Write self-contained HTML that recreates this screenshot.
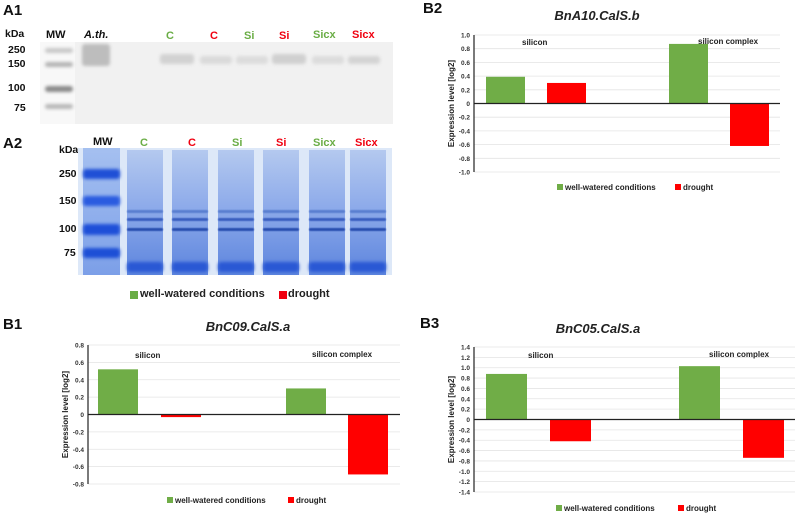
<!DOCTYPE html>
<html><head><meta charset="utf-8"><style>
body{margin:0;width:798px;height:515px;background:#fff;position:relative;overflow:hidden;font-family:"Liberation Sans",Arial,sans-serif}
.abs{position:absolute}
.pl{font-weight:bold;font-size:15px;color:#111}
.lab{font-weight:bold;font-size:11px;white-space:nowrap}
.g{color:#6aad45}.r{color:#f00010}
.kd{font-weight:bold;font-size:10.5px;color:#111}
.band{position:absolute;filter:blur(1.5px);border-radius:3px}
.lane{position:absolute;top:150px;height:125px;width:36px;background:linear-gradient(#b4c9ef,#8eabea 45%,#5d85de)}
</style></head><body>
<div class="abs pl" style="left:3px;top:2px">A1</div>
<div class="abs kd" style="left:5px;top:28px">kDa</div>
<div class="abs lab" style="left:46px;top:29px;color:#111">MW</div>
<div class="abs lab" style="left:84px;top:29px;color:#111;font-style:italic">A.th.</div>
<div class="abs lab g" style="left:166px;top:30px">C</div>
<div class="abs lab r" style="left:210px;top:30px">C</div>
<div class="abs lab g" style="left:244px;top:30px">Si</div>
<div class="abs lab r" style="left:279px;top:30px">Si</div>
<div class="abs lab g" style="left:313px;top:29px">Sicx</div>
<div class="abs lab r" style="left:352px;top:29px">Sicx</div>
<div class="abs kd" style="left:8px;top:44px">250</div>
<div class="abs kd" style="left:8px;top:58px">150</div>
<div class="abs kd" style="left:8px;top:82px">100</div>
<div class="abs kd" style="left:14px;top:102px">75</div>
<div class="abs" style="left:40px;top:42px;width:36px;height:82px;background:#f8f8f8"></div>
<div class="abs" style="left:75px;top:42px;width:318px;height:82px;background:#f1f1f1"></div>
<div class="abs" style="left:40px;top:42px;width:353px;height:82px">
 <div class="band" style="left:5px;top:6px;width:28px;height:5px;background:#c8c8c8"></div>
 <div class="band" style="left:5px;top:20px;width:28px;height:5px;background:#b4b4b4"></div>
 <div class="band" style="left:5px;top:44px;width:28px;height:6px;background:#8a8a8a"></div>
 <div class="band" style="left:5px;top:62px;width:28px;height:5px;background:#b8b8b8"></div>
 <div class="band" style="left:42px;top:2px;width:28px;height:22px;background:#bdbdbd"></div>
 <div class="band" style="left:120px;top:12px;width:34px;height:10px;background:#d2d2d2"></div>
 <div class="band" style="left:160px;top:14px;width:32px;height:8px;background:#dadada"></div>
 <div class="band" style="left:196px;top:14px;width:32px;height:8px;background:#dcdcdc"></div>
 <div class="band" style="left:232px;top:12px;width:34px;height:10px;background:#d0d0d0"></div>
 <div class="band" style="left:272px;top:14px;width:32px;height:8px;background:#dcdcdc"></div>
 <div class="band" style="left:308px;top:14px;width:32px;height:8px;background:#d4d4d4"></div>
</div>
<div class="abs pl" style="left:3px;top:135px">A2</div>
<div class="abs kd" style="left:59px;top:144px">kDa</div>
<div class="abs lab" style="left:93px;top:136px;color:#111">MW</div>
<div class="abs lab g" style="left:140px;top:137px">C</div>
<div class="abs lab r" style="left:188px;top:137px">C</div>
<div class="abs lab g" style="left:232px;top:137px">Si</div>
<div class="abs lab r" style="left:276px;top:137px">Si</div>
<div class="abs lab g" style="left:313px;top:137px">Sicx</div>
<div class="abs lab r" style="left:355px;top:137px">Sicx</div>
<div class="abs kd" style="left:59px;top:168px">250</div>
<div class="abs kd" style="left:59px;top:195px">150</div>
<div class="abs kd" style="left:59px;top:223px">100</div>
<div class="abs kd" style="left:64px;top:247px">75</div>
<div class="abs" style="left:78px;top:148px;width:314px;height:127px;background:#dde8f8">
 <div class="abs" style="left:5px;top:0;width:37px;height:127px;background:linear-gradient(#a5c0f0,#7c9fe8)"></div>
 <div class="band" style="left:5px;top:21px;width:37px;height:10px;background:#1f4fd6"></div>
 <div class="band" style="left:5px;top:48px;width:37px;height:10px;background:#2a5be0"></div>
 <div class="band" style="left:5px;top:76px;width:37px;height:11px;background:#1e4fd8"></div>
 <div class="band" style="left:5px;top:100px;width:37px;height:10px;background:#1d4fd6"></div>
</div>
<div id="lanes"></div>
<div class="abs" style="left:130px;top:291px;width:8px;height:8px;background:#6aad45"></div>
<div class="abs lab" style="left:140px;top:288px;font-size:11px;color:#222">well-watered conditions</div>
<div class="abs" style="left:279px;top:291px;width:8px;height:8px;background:#f00010"></div>
<div class="abs lab" style="left:288px;top:288px;font-size:11px;color:#222">drought</div>
<svg id="charts" class="abs" style="left:0;top:0" width="798" height="515"></svg>
<script>
var laneXs=[127,172,218,263,309,350];
var L=document.getElementById('lanes');
laneXs.forEach(function(x){
 var d=document.createElement('div');d.className='lane';d.style.left=x+'px';
 
 
 d.innerHTML='<div class="band" style="left:0;top:60px;width:36px;height:3px;background:#5a7fd0;filter:blur(.6px)"></div><div class="band" style="left:0;top:68px;width:36px;height:3px;background:#3a5fc0;filter:blur(.6px)"></div><div class="band" style="left:0;top:78px;width:36px;height:3px;background:#2a4fb0;filter:blur(.6px)"></div><div class="band" style="left:0;top:112px;width:36px;height:10px;background:#2a58d4"></div>';
 L.appendChild(d);
});

var categories=["silicon","silicon complex"];
var b2Well=[0.39,0.87], b2Drought=[0.30,-0.62];
var b1Well=[0.52,0.30], b1Drought=[-0.03,-0.69];
var b3Well=[0.88,1.03], b3Drought=[-0.42,-0.74];
var b2Ticks=[1.0,0.8,0.6,0.4,0.2,0,-0.2,-0.4,-0.6,-0.8,-1.0];
var b1Ticks=[0.8,0.6,0.4,0.2,0,-0.2,-0.4,-0.6,-0.8];
var b3Ticks=[1.4,1.2,1.0,0.8,0.6,0.4,0.2,0,-0.2,-0.4,-0.6,-0.8,-1.0,-1.2,-1.4];

var NS='http://www.w3.org/2000/svg',S=document.getElementById('charts');
function el(t,a,txt){var e=document.createElementNS(NS,t);for(var k in a)e.setAttribute(k,a[k]);if(txt!=null)e.textContent=txt;S.appendChild(e);return e;}
function chart(c){
 var ymax=c.ticks[0],ymin=c.ticks[c.ticks.length-1];
 function y(v){return c.top+(ymax-v)/(ymax-ymin)*(c.bot-c.top);}
 var t=el('text',{x:c.lblX,y:c.lblY+13,'font-size':15,'font-weight':'bold',fill:'#111'},c.label);
 
 
 t=el('text',{x:c.titleX,y:c.titleY,'font-size':13,'font-weight':'bold','font-style':'italic','text-anchor':'middle',fill:'#222'},c.title);
 
 
 c.ticks.forEach(function(v){
  var l=el('line',{x1:c.ax,x2:c.right,y1:y(v),y2:y(v),stroke:'#e4e4e4','stroke-width':0.8});
  
  
  var tx=el('text',{x:c.ax-4,y:y(v)+2.5,'font-size':6.5,'font-weight':'bold','text-anchor':'end',fill:'#333'},v===0?'0':v.toFixed(1));
  
  
 });
 var bw=c.bw;
 for(var i=0;i<categories.length;i++){
  [[c.well[i],'#70ad47',c.gx[i]],[c.dr[i],'#ff0000',c.rx[i]]].forEach(function(s,j){
   var v=s[0],y0=y(0),y1=y(v);
   var r=el('rect',{x:s[2],y:Math.min(y0,y1),width:bw,height:Math.abs(y1-y0),fill:s[1]});
   
   
  });
 }
 var a=el('line',{x1:c.ax,x2:c.ax,y1:c.top,y2:c.bot,stroke:'#222','stroke-width':1.2});
 
 
 a=el('line',{x1:c.ax,x2:c.right,y1:y(0),y2:y(0),stroke:'#222','stroke-width':1.2});
 
 
 var cy=(c.top+c.bot)/2;
 t=el('text',{x:c.ax-20,y:cy,'font-size':8,'font-weight':'bold','text-anchor':'middle',fill:'#222',transform:'rotate(-90 '+(c.ax-20)+' '+cy+')'},'Expression level [log2]');
 
 
 t=el('text',{x:c.s1x,y:c.sY,'font-size':8,'font-weight':'bold',fill:'#222'},categories[0]);
 
 
 t=el('text',{x:c.s2x,y:c.sY-1,'font-size':8,'font-weight':'bold',fill:'#222'},categories[1]);
 
 
 var r=el('rect',{x:c.legX,y:c.legY-6,width:6,height:6,fill:'#70ad47'});
 
 
 t=el('text',{x:c.legX+8,y:c.legY,'font-size':8,'font-weight':'bold',fill:'#222'},'well-watered conditions');
 
 
 r=el('rect',{x:c.legX2,y:c.legY-6,width:6,height:6,fill:'#ff0000'});
 
 
 t=el('text',{x:c.legX2+8,y:c.legY,'font-size':8,'font-weight':'bold',fill:'#222'},'drought');
 
 
}
chart({id:'b2',label:'B2',lblX:423,lblY:0,title:'BnA10.CalS.b',titleX:597,titleY:20,ax:474,right:780,top:35,bot:172,ticks:b2Ticks,well:b2Well,dr:b2Drought,gx:[486,669],rx:[547,730],bw:39,s1x:522,s2x:698,sY:45,legX:557,legX2:675,legY:190});
chart({id:'b1',label:'B1',lblX:3,lblY:316,title:'BnC09.CalS.a',titleX:248,titleY:331,ax:88,right:400,top:345,bot:484,ticks:b1Ticks,well:b1Well,dr:b1Drought,gx:[98,286],rx:[161,348],bw:40,s1x:135,s2x:312,sY:358,legX:167,legX2:288,legY:503});
chart({id:'b3',label:'B3',lblX:420,lblY:315,title:'BnC05.CalS.a',titleX:598,titleY:333,ax:474,right:795,top:347,bot:492,ticks:b3Ticks,well:b3Well,dr:b3Drought,gx:[486,679],rx:[550,743],bw:41,s1x:528,s2x:709,sY:358,legX:556,legX2:678,legY:511});
document.querySelectorAll('svg text').forEach(function(t){t.style.fontFamily='"Liberation Sans",Arial,sans-serif';});
</script>
</body></html>
